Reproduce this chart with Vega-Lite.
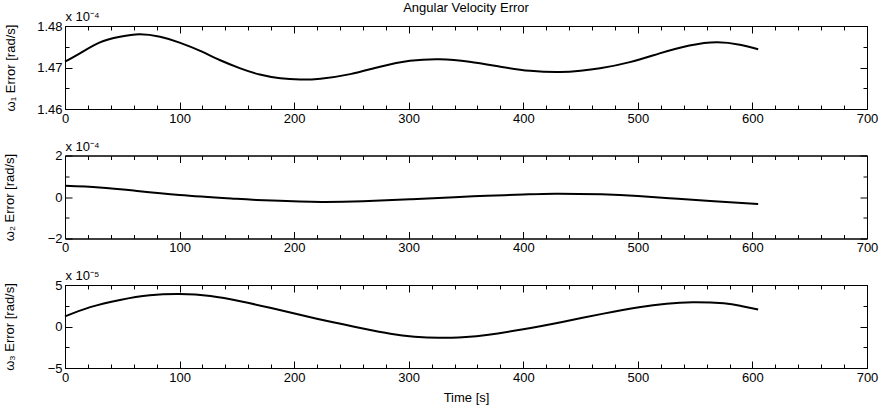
{
  "$schema": "https://vega.github.io/schema/vega-lite/v6.json",
  "background": "white",
  "autosize": {"type": "pad"},
  "padding": {"left": 2, "right": 3, "top": 1, "bottom": 4},
  "bounds": "flush",
  "spacing": 46.5,
  "config": {
    "font": "Liberation Sans",
    "view": {"stroke": "black", "strokeWidth": 1},
    "axis": {
      "grid": false,
      "domainColor": "black",
      "domainWidth": 1,
      "tickColor": "black",
      "tickWidth": 1,
      "labelColor": "black",
      "titleColor": "black",
      "labelFont": "Liberation Sans",
      "titleFont": "Liberation Sans",
      "labelFontSize": 13,
      "titleFontSize": 13,
      "titleFontWeight": "normal",
      "labelOverlap": false,
      "labelFlush": false
    },
    "title": {"font": "Liberation Sans", "fontSize": 13, "fontWeight": "normal", "color": "black"}
  },
  "datasets": {
    "w1": [
      {"t": 0, "v": 1.4714e-4}, {"t": 13, "v": 1.4734e-4}, {"t": 30, "v": 1.4760e-4},
      {"t": 48, "v": 1.4774e-4}, {"t": 65, "v": 1.4780e-4}, {"t": 83, "v": 1.4774e-4},
      {"t": 100, "v": 1.4760e-4}, {"t": 118, "v": 1.4740e-4}, {"t": 135, "v": 1.4718e-4},
      {"t": 153, "v": 1.4698e-4}, {"t": 170, "v": 1.4683e-4}, {"t": 188, "v": 1.4674e-4},
      {"t": 205, "v": 1.4671e-4}, {"t": 223, "v": 1.4673e-4}, {"t": 249, "v": 1.4684e-4},
      {"t": 275, "v": 1.4702e-4}, {"t": 301, "v": 1.4716e-4}, {"t": 327, "v": 1.4720e-4},
      {"t": 353, "v": 1.4714e-4}, {"t": 380, "v": 1.4702e-4}, {"t": 406, "v": 1.4692e-4},
      {"t": 432, "v": 1.4689e-4}, {"t": 450, "v": 1.4692e-4}, {"t": 467, "v": 1.4698e-4},
      {"t": 493, "v": 1.4713e-4}, {"t": 519, "v": 1.4734e-4}, {"t": 545, "v": 1.4753e-4},
      {"t": 569, "v": 1.4761e-4}, {"t": 589, "v": 1.4755e-4}, {"t": 605, "v": 1.4744e-4}
    ],
    "w2": [
      {"t": 0, "v": 0.54e-4}, {"t": 30, "v": 0.46e-4}, {"t": 60, "v": 0.31e-4},
      {"t": 100, "v": 0.10e-4}, {"t": 147, "v": -0.08e-4}, {"t": 167, "v": -0.14e-4},
      {"t": 205, "v": -0.22e-4}, {"t": 227, "v": -0.24e-4}, {"t": 260, "v": -0.20e-4},
      {"t": 301, "v": -0.11e-4}, {"t": 340, "v": -0.01e-4}, {"t": 368, "v": 0.06e-4},
      {"t": 400, "v": 0.12e-4}, {"t": 428, "v": 0.16e-4}, {"t": 468, "v": 0.13e-4},
      {"t": 500, "v": 0.05e-4}, {"t": 535, "v": -0.09e-4}, {"t": 570, "v": -0.22e-4},
      {"t": 605, "v": -0.34e-4}
    ],
    "w3": [
      {"t": 0, "v": 1.21e-5}, {"t": 22, "v": 2.33e-5}, {"t": 48, "v": 3.20e-5},
      {"t": 74, "v": 3.76e-5}, {"t": 100, "v": 3.92e-5}, {"t": 127, "v": 3.68e-5},
      {"t": 153, "v": 3.05e-5}, {"t": 179, "v": 2.25e-5}, {"t": 205, "v": 1.41e-5},
      {"t": 234, "v": 0.50e-5}, {"t": 260, "v": -0.25e-5}, {"t": 284, "v": -0.88e-5},
      {"t": 305, "v": -1.24e-5}, {"t": 327, "v": -1.37e-5}, {"t": 350, "v": -1.26e-5},
      {"t": 368, "v": -1.02e-5}, {"t": 400, "v": -0.33e-5}, {"t": 434, "v": 0.55e-5},
      {"t": 470, "v": 1.55e-5}, {"t": 501, "v": 2.32e-5}, {"t": 525, "v": 2.75e-5},
      {"t": 548, "v": 2.92e-5}, {"t": 575, "v": 2.80e-5}, {"t": 590, "v": 2.48e-5},
      {"t": 605, "v": 2.05e-5}
    ]
  },
  "vconcat": [
    {
      "width": 802, "height": 83,
      "data": {"name": "w1"},
      "title": {"text": "Angular Velocity Error", "anchor": "middle", "offset": -4},
      "resolve": {"axis": {"x": "independent", "y": "independent"}},
      "layer": [
        {
          "mark": {"type": "line", "color": "black", "strokeWidth": 2, "interpolate": "natural"},
          "encoding": {
            "x": {"field": "t", "type": "quantitative", "scale": {"domain": [0, 700], "nice": false},
              "axis": {"orient": "bottom", "title": null, "values": [0,20,40,60,80,100,120,140,160,180,200,220,240,260,280,300,320,340,360,380,400,420,440,460,480,500,520,540,560,580,600,620,640,660,680,700],
                "format": "d", "labelExpr": "datum.value % 100 === 0 ? datum.label : ''", "labelPadding": 10,
                "tickSize": {"condition": {"test": "datum.value % 100 === 0", "value": -7}, "value": -4}}},
            "y": {"field": "v", "type": "quantitative", "scale": {"domain": [1.46e-4, 1.48e-4], "nice": false, "zero": false},
              "axis": {"orient": "left", "title": "ω₁ Error [rad/s]", "values": [1.46e-4, 1.465e-4, 1.47e-4, 1.475e-4, 1.48e-4],
                "labelExpr": "abs(datum.value*1e6 - round(datum.value*1e6)) < 0.01 ? format(datum.value*1e4, '.2f') : ''",
                "labelPadding": 10, "titlePadding": 19,
                "tickSize": {"condition": {"test": "abs(datum.value*1e6 - round(datum.value*1e6)) < 0.01", "value": -7}, "value": -4}}}
          }
        },
        {
          "mark": {"type": "line", "opacity": 0},
          "encoding": {
            "x": {"field": "t", "type": "quantitative",
              "axis": {"orient": "top", "labels": false, "title": "x 10⁻⁴", "titleAnchor": "start", "titleAlign": "left", "titleBaseline": "alphabetic", "titlePadding": 5,
                "values": [0,20,40,60,80,100,120,140,160,180,200,220,240,260,280,300,320,340,360,380,400,420,440,460,480,500,520,540,560,580,600,620,640,660,680,700],
                "tickSize": {"condition": {"test": "datum.value % 100 === 0", "value": -7}, "value": -4}}},
            "y": {"field": "v", "type": "quantitative",
              "axis": {"orient": "right", "labels": false, "title": null, "values": [1.46e-4, 1.465e-4, 1.47e-4, 1.475e-4, 1.48e-4],
                "tickSize": {"condition": {"test": "abs(datum.value*1e6 - round(datum.value*1e6)) < 0.01", "value": -7}, "value": -4}}}
          }
        }
      ]
    },
    {
      "width": 802, "height": 83,
      "data": {"name": "w2"},
      "resolve": {"axis": {"x": "independent", "y": "independent"}},
      "layer": [
        {
          "mark": {"type": "line", "color": "black", "strokeWidth": 2, "interpolate": "natural"},
          "encoding": {
            "x": {"field": "t", "type": "quantitative", "scale": {"domain": [0, 700], "nice": false},
              "axis": {"orient": "bottom", "title": null, "values": [0,20,40,60,80,100,120,140,160,180,200,220,240,260,280,300,320,340,360,380,400,420,440,460,480,500,520,540,560,580,600,620,640,660,680,700],
                "format": "d", "labelExpr": "datum.value % 100 === 0 ? datum.label : ''", "labelPadding": 10,
                "tickSize": {"condition": {"test": "datum.value % 100 === 0", "value": -7}, "value": -4}}},
            "y": {"field": "v", "type": "quantitative", "scale": {"domain": [-2e-4, 2e-4], "nice": false, "zero": false},
              "axis": {"orient": "left", "title": "ω₂ Error [rad/s]", "values": [-2e-4, -1e-4, 0, 1e-4, 2e-4],
                "labelExpr": "abs(datum.value*1e4/2 - round(datum.value*1e4/2)) < 0.01 ? format(datum.value*1e4, '.0f') : ''",
                "labelPadding": 10, "titlePadding": 31,
                "tickSize": {"condition": {"test": "abs(datum.value*1e4/2 - round(datum.value*1e4/2)) < 0.01", "value": -7}, "value": -4}}}
          }
        },
        {
          "mark": {"type": "line", "opacity": 0},
          "encoding": {
            "x": {"field": "t", "type": "quantitative",
              "axis": {"orient": "top", "labels": false, "title": "x 10⁻⁴", "titleAnchor": "start", "titleAlign": "left", "titleBaseline": "alphabetic", "titlePadding": 5,
                "values": [0,20,40,60,80,100,120,140,160,180,200,220,240,260,280,300,320,340,360,380,400,420,440,460,480,500,520,540,560,580,600,620,640,660,680,700],
                "tickSize": {"condition": {"test": "datum.value % 100 === 0", "value": -7}, "value": -4}}},
            "y": {"field": "v", "type": "quantitative",
              "axis": {"orient": "right", "labels": false, "title": null, "values": [-2e-4, -1e-4, 0, 1e-4, 2e-4],
                "tickSize": {"condition": {"test": "abs(datum.value*1e4/2 - round(datum.value*1e4/2)) < 0.01", "value": -7}, "value": -4}}}
          }
        }
      ]
    },
    {
      "width": 802, "height": 83,
      "data": {"name": "w3"},
      "resolve": {"axis": {"x": "independent", "y": "independent"}},
      "layer": [
        {
          "mark": {"type": "line", "color": "black", "strokeWidth": 2, "interpolate": "natural"},
          "encoding": {
            "x": {"field": "t", "type": "quantitative", "scale": {"domain": [0, 700], "nice": false},
              "axis": {"orient": "bottom", "title": "Time [s]", "titlePadding": 4, "values": [0,20,40,60,80,100,120,140,160,180,200,220,240,260,280,300,320,340,360,380,400,420,440,460,480,500,520,540,560,580,600,620,640,660,680,700],
                "format": "d", "labelExpr": "datum.value % 100 === 0 ? datum.label : ''", "labelPadding": 10,
                "tickSize": {"condition": {"test": "datum.value % 100 === 0", "value": -7}, "value": -4}}},
            "y": {"field": "v", "type": "quantitative", "scale": {"domain": [-5e-5, 5e-5], "nice": false, "zero": false},
              "axis": {"orient": "left", "title": "ω₃ Error [rad/s]", "values": [-5e-5, -2.5e-5, 0, 2.5e-5, 5e-5],
                "labelExpr": "abs(datum.value*1e5/5 - round(datum.value*1e5/5)) < 0.01 ? format(datum.value*1e5, '.0f') : ''",
                "labelPadding": 10, "titlePadding": 31,
                "tickSize": {"condition": {"test": "abs(datum.value*1e5/5 - round(datum.value*1e5/5)) < 0.01", "value": -7}, "value": -4}}}
          }
        },
        {
          "mark": {"type": "line", "opacity": 0},
          "encoding": {
            "x": {"field": "t", "type": "quantitative",
              "axis": {"orient": "top", "labels": false, "title": "x 10⁻⁵", "titleAnchor": "start", "titleAlign": "left", "titleBaseline": "alphabetic", "titlePadding": 5,
                "values": [0,20,40,60,80,100,120,140,160,180,200,220,240,260,280,300,320,340,360,380,400,420,440,460,480,500,520,540,560,580,600,620,640,660,680,700],
                "tickSize": {"condition": {"test": "datum.value % 100 === 0", "value": -7}, "value": -4}}},
            "y": {"field": "v", "type": "quantitative",
              "axis": {"orient": "right", "labels": false, "title": null, "values": [-5e-5, -2.5e-5, 0, 2.5e-5, 5e-5],
                "tickSize": {"condition": {"test": "abs(datum.value*1e5/5 - round(datum.value*1e5/5)) < 0.01", "value": -7}, "value": -4}}}
          }
        }
      ]
    }
  ]
}
